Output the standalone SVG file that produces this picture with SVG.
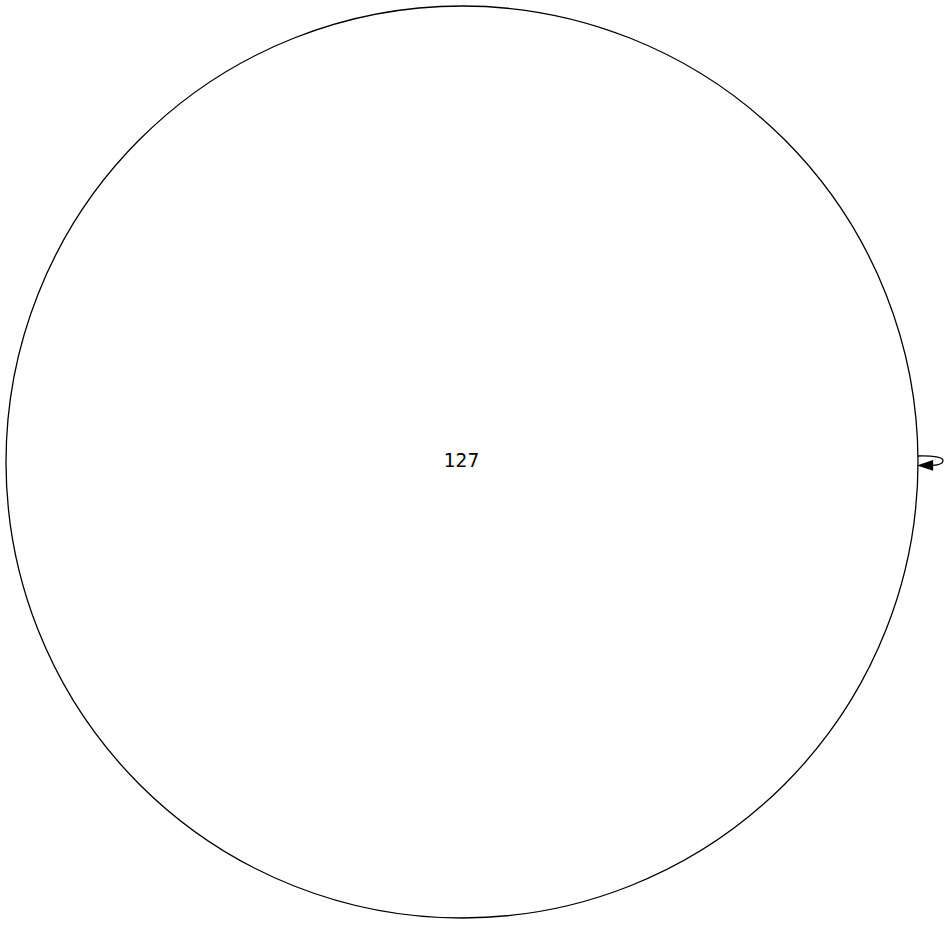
<svg xmlns="http://www.w3.org/2000/svg" width="948" height="925" viewBox="0 0 948 925">
<style>
.node ellipse{fill:none;stroke:#000;stroke-width:1.3}
.node text{font-family:"DejaVu Sans",sans-serif;font-size:18.67px;fill:#000;text-anchor:middle}
.edge path{fill:none;stroke:#000;stroke-width:1.3}
.edge polygon{fill:#000;stroke:#000;stroke-width:1.3}
</style>
<rect width="948" height="925" fill="#fff"/>
<g id="node127" class="node">
<ellipse cx="462" cy="462" rx="456" ry="456"/>
<text x="461.5" y="467">127</text>
</g>
<g id="edges" class="edge">
<path d="M918,456 C934,455.5 943,457.5 943,460.5 C943,463.5 939,465 932.5,465.3"/>
<polygon points="932.5,460.8 919,465.5 932.5,469.8"/>
</g>
</svg>
